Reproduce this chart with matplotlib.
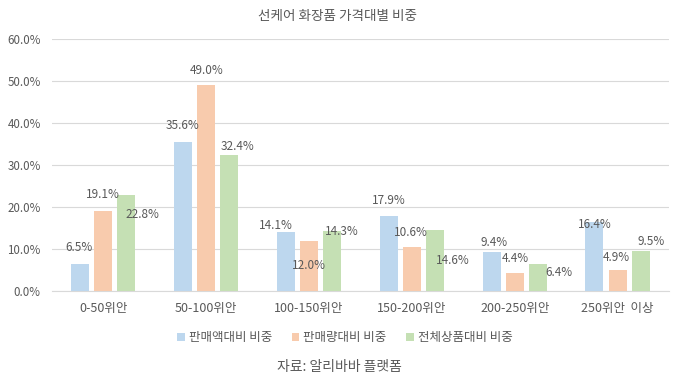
import matplotlib
matplotlib.use("Agg")
import matplotlib.pyplot as plt
import numpy as np
from matplotlib.patches import Patch

plt.rcParams['font.family'] = ['Noto Sans CJK KR', 'DejaVu Sans']

title = "선케어 화장품 가격대별 비중"
categories = ["0-50위안", "50-100위안", "100-150위안", "150-200위안", "200-250위안", "250위안  이상"]
series_names = ["판매액대비 비중", "판매량대비 비중", "전체상품대비 비중"]
sales_amount = [6.5, 35.6, 14.1, 17.9, 9.4, 16.4]
sales_volume = [19.1, 49.0, 12.0, 10.6, 4.4, 4.9]
all_products = [22.8, 32.4, 14.3, 14.6, 6.4, 9.5]
yticks = [0, 10, 20, 30, 40, 50, 60]
source = "자료: 알리바바 플랫폼"

colors = ["#BDD7EE", "#F8CBAD", "#C5E0B4"]
text_c = "#595959"

# label offsets in pixels (dx, dy) relative to bar top-center (styling only)
offsets = [
    [(-1, 16), (-1, 16), (16, -19)],
    [(-1, 16), (0, 15), (8, 9)],
    [(-10, 6), (0, -25), (10, 0)],
    [(0, 15), (-1, 14), (18, -31)],
    [(2, 9), (1, 14), (21, -8)],
    [(0, -2), (-1, 13), (11, 10)],
]

fig = plt.figure(figsize=(6.75, 3.84), dpi=100)
ax = fig.add_axes([0.077, 0.242, 0.914, 0.656])

x = np.arange(len(categories))
w = 0.175
step = 0.224
data = [sales_amount, sales_volume, all_products]
for i, (vals, col) in enumerate(zip(data, colors)):
    xs = x + (i - 1) * step
    ax.bar(xs, vals, width=w, color=col, zorder=3)
    for j, (xx, v) in enumerate(zip(xs, vals)):
        dx, dy = offsets[j][i]
        ax.annotate(f"{v:.1f}%", (xx, v), xytext=(dx, dy), textcoords='offset pixels',
                    ha='center', va='center', fontsize=8.5, color=text_c, zorder=4)

ax.set_xlim(-0.5, len(categories) - 0.5)
ax.set_ylim(0, 60)
ax.set_yticks(yticks)
ax.set_yticklabels([f"{t:.1f}%" for t in yticks])
ax.set_xticks(x)
ax.set_xticklabels(categories)
ax.tick_params(axis='y', length=0, labelsize=8.3, colors=text_c, pad=8)
ax.tick_params(axis='x', length=0, labelsize=9, colors=text_c, pad=8)
ax.grid(axis='y', color='#D9D9D9', linewidth=0.8, zorder=0)
for s in ['top', 'right', 'left']:
    ax.spines[s].set_visible(False)
ax.spines['bottom'].set_color('#D9D9D9')
ax.spines['bottom'].set_linewidth(0.8)

fig.text(0.5, 0.958, title, ha='center', va='center', fontsize=9.8, color=text_c)

handles = [Patch(facecolor=c, edgecolor='none') for c in colors]
fig.legend(handles, series_names, loc='center', bbox_to_anchor=(0.511, 0.12), ncol=3,
           frameon=False, fontsize=9, handlelength=0.6, handleheight=0.6,
           handletextpad=0.3, columnspacing=1.6, labelcolor=text_c)

fig.text(0.503, 0.045, source, ha='center', va='center', fontsize=10, color=text_c)

fig.savefig("out.png", dpi=100)
